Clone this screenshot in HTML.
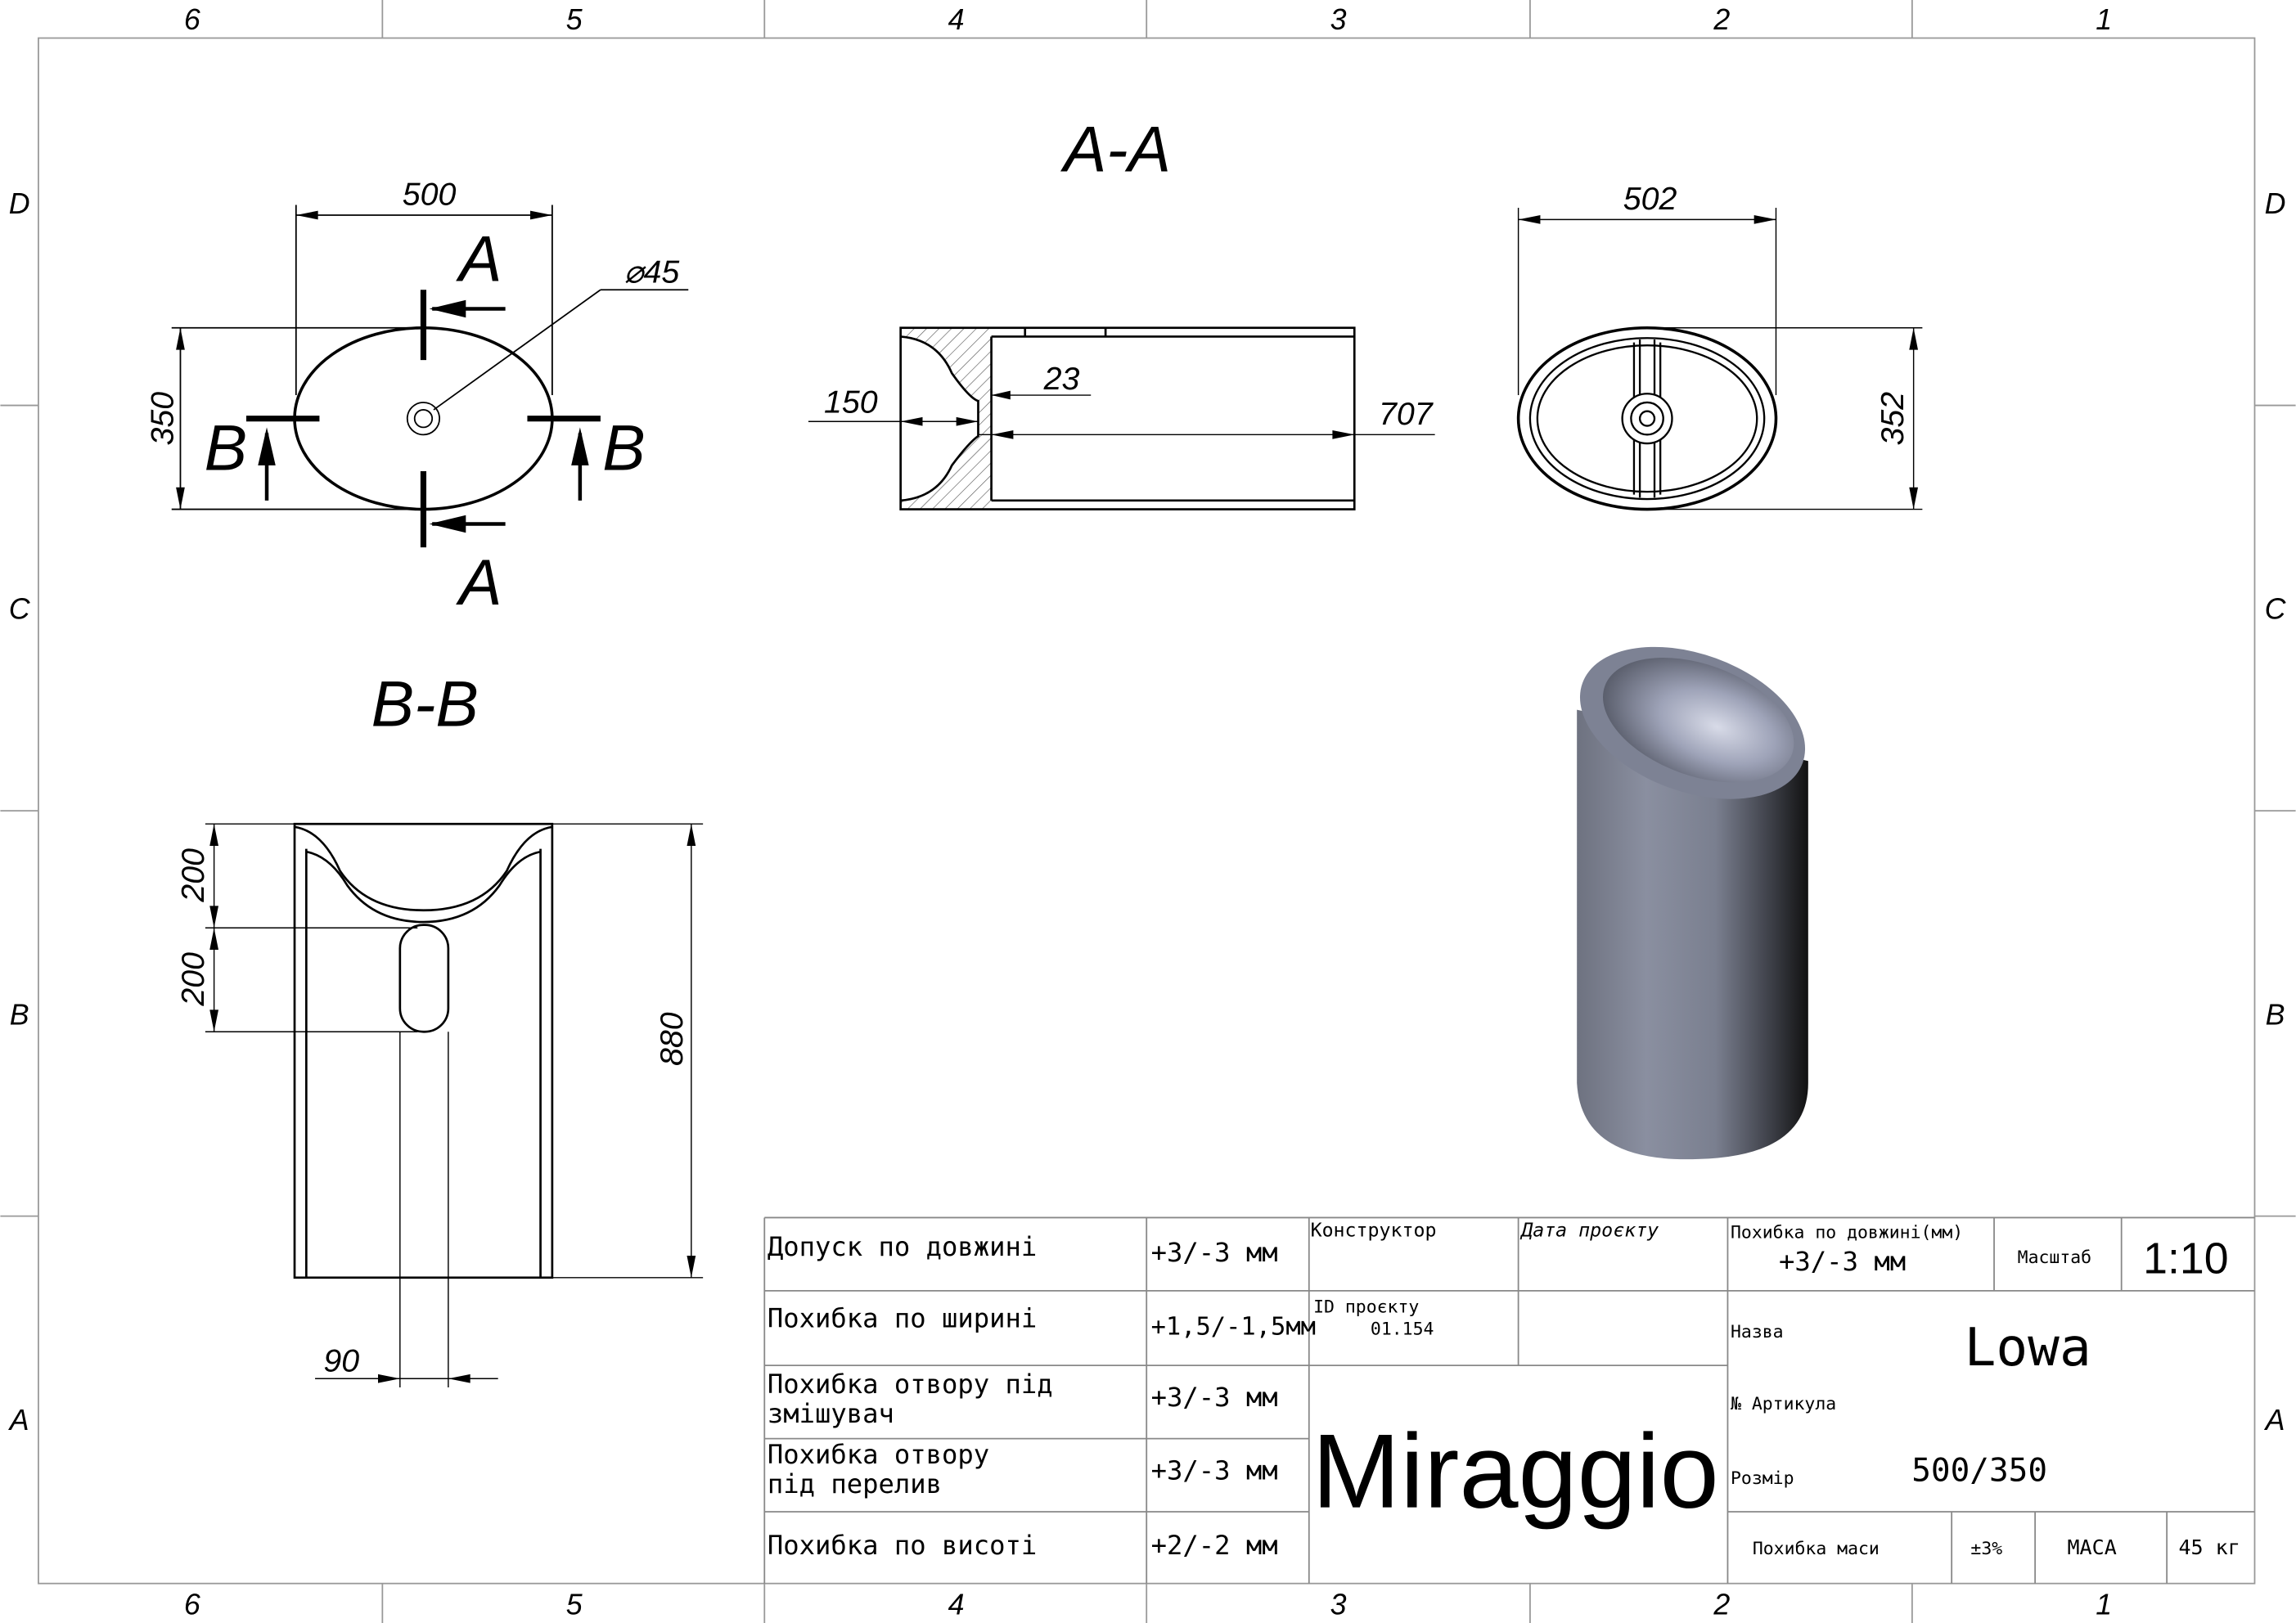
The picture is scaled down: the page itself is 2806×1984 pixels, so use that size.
<!DOCTYPE html>
<html><head><meta charset="utf-8"><style>
html,body{margin:0;padding:0;background:#fff}
svg{display:block}
text{font-family:"Liberation Sans",sans-serif;fill:#000}
.m{font-family:"DejaVu Sans Mono","Liberation Mono",monospace}
</style></head><body>
<svg width="2806" height="1984" viewBox="0 0 1568 1109" xmlns="http://www.w3.org/2000/svg">
<defs>
<pattern id="h" width="6" height="6" patternUnits="userSpaceOnUse" patternTransform="rotate(45)"><line x1="0" y1="0" x2="0" y2="6" stroke="#555" stroke-width="0.7"/></pattern>
<linearGradient id="body" x1="0" x2="1" y1="0" y2="0">
<stop offset="0" stop-color="#6e7280"/><stop offset="0.3" stop-color="#8a8fa0"/><stop offset="0.6" stop-color="#7a7f8f"/><stop offset="0.85" stop-color="#3a3c44"/><stop offset="1" stop-color="#111"/></linearGradient>
<radialGradient id="bowl" cx="0.6" cy="0.5" r="0.6"><stop offset="0" stop-color="#d8dbe8"/><stop offset="0.5" stop-color="#9ea3b8"/><stop offset="1" stop-color="#5a5e6c"/></radialGradient>
</defs>
<g fill="none" stroke="#999" stroke-width="1">
<rect x="26" y="26" width="1514" height="1056"/>
<line x1="261" y1="0" x2="261" y2="26"/><line x1="522" y1="0" x2="522" y2="26"/><line x1="783" y1="0" x2="783" y2="26"/><line x1="1045" y1="0" x2="1045" y2="26"/><line x1="1306" y1="0" x2="1306" y2="26"/>
<line x1="261" y1="1082" x2="261" y2="1109"/><line x1="522" y1="1082" x2="522" y2="1109"/><line x1="783" y1="1082" x2="783" y2="1109"/><line x1="1045" y1="1082" x2="1045" y2="1109"/><line x1="1306" y1="1082" x2="1306" y2="1109"/>
<line x1="0" y1="277" x2="26" y2="277"/><line x1="0" y1="554" x2="26" y2="554"/><line x1="0" y1="831" x2="26" y2="831"/>
<line x1="1540" y1="277" x2="1568" y2="277"/><line x1="1540" y1="554" x2="1568" y2="554"/><line x1="1540" y1="831" x2="1568" y2="831"/>
</g>
<g font-size="20" font-style="italic" text-anchor="middle">
<text x="131" y="20">6</text><text x="392" y="20">5</text><text x="653" y="20">4</text><text x="914" y="20">3</text><text x="1176" y="20">2</text><text x="1437" y="20">1</text>
<text x="131" y="1103">6</text><text x="392" y="1103">5</text><text x="653" y="1103">4</text><text x="914" y="1103">3</text><text x="1176" y="1103">2</text><text x="1437" y="1103">1</text>
<text x="13" y="146">D</text><text x="13" y="423">C</text><text x="13" y="700">B</text><text x="13" y="977">A</text>
<text x="1554" y="146">D</text><text x="1554" y="423">C</text><text x="1554" y="700">B</text><text x="1554" y="977">A</text>
</g>

<g fill="none" stroke="#000" stroke-width="1">
<ellipse cx="289" cy="286" rx="88" ry="62" stroke-width="2"/>
<circle cx="289" cy="286" r="11"/><circle cx="289" cy="286" r="6"/>
<line x1="202" y1="140" x2="202" y2="270"/><line x1="377" y1="140" x2="377" y2="270"/>
<line x1="202" y1="147" x2="377" y2="147"/>
<line x1="117" y1="224" x2="280" y2="224"/><line x1="117" y1="348" x2="280" y2="348"/>
<line x1="123" y1="224" x2="123" y2="348"/>
<line x1="296" y1="280" x2="410" y2="198"/><line x1="410" y1="198" x2="470" y2="198"/>
</g>
<g stroke="#000" stroke-width="4" fill="none">
<line x1="289" y1="198" x2="289" y2="246"/><line x1="289" y1="322" x2="289" y2="374"/>
<line x1="168" y1="286" x2="218" y2="286"/><line x1="360" y1="286" x2="410" y2="286"/>
</g>
<g stroke="#000" stroke-width="2.5"><line x1="295" y1="211" x2="345" y2="211"/><line x1="295" y1="358" x2="345" y2="358"/><line x1="182" y1="296" x2="182" y2="342"/><line x1="396" y1="296" x2="396" y2="342"/></g>
<g fill="#000"><polygon points="293,211 318,205 318,217"/><polygon points="293,358 318,352 318,364"/><polygon points="182,292 176,318 188,318"/><polygon points="396,292 390,318 402,318"/></g>
<g font-size="22" font-style="italic" text-anchor="middle">
<text x="293" y="140">500</text>
<text x="445" y="193">⌀45</text>
<text transform="translate(118,286) rotate(-90)">350</text>
</g>
<g font-size="44" font-style="italic" text-anchor="middle">
<text x="328" y="192">A</text><text x="328" y="413">A</text><text x="154" y="321">B</text><text x="426" y="321">B</text>
<text x="763" y="117">A-A</text><text x="290" y="496">B-B</text>
</g>

<rect x="615" y="224" width="62" height="124" fill="url(#h)"/>
<path d="M615,230 Q640,232 650,255 Q662,272 668,274 L668,298 Q662,302 650,318 Q640,340 615,342 Z" fill="#fff"/>
<g fill="none" stroke="#000" stroke-width="1.5">
<rect x="615" y="224" width="310" height="124"/>
<line x1="677" y1="230" x2="677" y2="342"/>
<line x1="677" y1="230" x2="925" y2="230"/><line x1="677" y1="342" x2="925" y2="342"/>
<path d="M615,230 Q640,232 650,255 Q662,272 668,274 L668,298 Q662,302 650,318 Q640,340 615,342"/>
<line x1="700" y1="224" x2="700" y2="230"/><line x1="755" y1="224" x2="755" y2="230"/>
</g>
<g fill="none" stroke="#000" stroke-width="0.8">
<line x1="552" y1="288" x2="668" y2="288"/><line x1="677" y1="270" x2="745" y2="270"/>
<line x1="668" y1="297" x2="980" y2="297"/>
</g>
<g fill="#000"><polygon points="615,288 630,285 630,291"/><polygon points="668,288 653,285 653,291"/><polygon points="677,297 692,294 692,300"/><polygon points="925,297 910,294 910,300"/><polygon points="677,270 690,267 690,273"/></g>
<g font-size="22" font-style="italic" text-anchor="middle"><text x="581" y="282">150</text><text x="725" y="266">23</text><text x="960" y="290">707</text></g>

<g fill="none" stroke="#000" stroke-width="1.3">
<ellipse cx="1125" cy="286" rx="88" ry="62" stroke-width="2"/>
<ellipse cx="1125" cy="286" rx="80" ry="55"/>
<ellipse cx="1125" cy="286" rx="75" ry="50"/>
<line x1="1116" y1="234" x2="1116" y2="338"/><line x1="1134" y1="234" x2="1134" y2="338"/>
<line x1="1120" y1="232" x2="1120" y2="340"/><line x1="1130" y1="232" x2="1130" y2="340"/>
<circle cx="1125" cy="286" r="17" fill="#fff"/><circle cx="1125" cy="286" r="11"/><circle cx="1125" cy="286" r="5"/>
</g>
<g fill="none" stroke="#000" stroke-width="0.8">
<line x1="1037" y1="142" x2="1037" y2="270"/><line x1="1213" y1="142" x2="1213" y2="270"/>
<line x1="1037" y1="150" x2="1213" y2="150"/>
<line x1="1130" y1="224" x2="1313" y2="224"/><line x1="1130" y1="348" x2="1313" y2="348"/>
<line x1="1307" y1="224" x2="1307" y2="348"/>
</g>
<g fill="#000"><polygon points="1037,150 1052,147 1052,153"/><polygon points="1213,150 1198,147 1198,153"/><polygon points="1307,224 1304,239 1310,239"/><polygon points="1307,348 1304,333 1310,333"/>
<polygon points="202,147 217,144 217,150"/><polygon points="377,147 362,144 362,150"/><polygon points="123,224 120,239 126,239"/><polygon points="123,348 120,333 126,333"/></g>
<g font-size="22" font-style="italic" text-anchor="middle"><text x="1127" y="143">502</text><text transform="translate(1300,286) rotate(-90)">352</text></g>

<g fill="none" stroke="#000" stroke-width="1.5">
<rect x="201" y="563" width="176" height="310"/>
<line x1="209" y1="580" x2="209" y2="873"/><line x1="369" y1="580" x2="369" y2="873"/>
<path d="M201,565 Q220,568 232,595 Q250,622 289,622 Q328,622 346,595 Q358,568 377,565"/>
<path d="M209,582 Q225,585 237,605 Q255,630 289,630 Q323,630 341,605 Q353,585 369,582"/>
<rect x="273" y="632" width="33" height="73" rx="16"/>
</g>
<g fill="none" stroke="#000" stroke-width="0.8">
<line x1="140" y1="563" x2="201" y2="563"/><line x1="140" y1="634" x2="285" y2="634"/><line x1="140" y1="705" x2="285" y2="705"/>
<line x1="146" y1="563" x2="146" y2="705"/>
<line x1="377" y1="563" x2="480" y2="563"/><line x1="377" y1="873" x2="480" y2="873"/><line x1="472" y1="563" x2="472" y2="873"/>
<line x1="273" y1="705" x2="273" y2="948"/><line x1="306" y1="705" x2="306" y2="948"/>
<line x1="215" y1="942" x2="340" y2="942"/>
</g>
<g fill="#000"><polygon points="146,563 143,578 149,578"/><polygon points="146,634 143,619 149,619"/><polygon points="146,634 143,649 149,649"/><polygon points="146,705 143,690 149,690"/>
<polygon points="472,563 469,578 475,578"/><polygon points="472,873 469,858 475,858"/><polygon points="273,942 258,939 258,945"/><polygon points="306,942 321,939 321,945"/></g>
<g font-size="22" font-style="italic" text-anchor="middle"><text transform="translate(139,598) rotate(-90)">200</text><text transform="translate(139,669) rotate(-90)">200</text><text transform="translate(466,710) rotate(-90)">880</text><text x="233" y="937">90</text></g>

<path d="M1077,485 L1077,740 Q1080,795 1160,792 Q1235,790 1235,740 L1235,520 Z" fill="url(#body)"/>
<ellipse cx="1156" cy="494" rx="80" ry="47" transform="rotate(20 1156 494)" fill="#7d8294"/>
<ellipse cx="1160" cy="492" rx="68" ry="38" transform="rotate(20 1160 492)" fill="url(#bowl)"/>

<g fill="none" stroke="#888" stroke-width="1">
<line x1="522" y1="832" x2="1540" y2="832"/><line x1="522" y1="832" x2="522" y2="1082"/>
<line x1="783" y1="832" x2="783" y2="1082"/><line x1="894" y1="832" x2="894" y2="1082"/><line x1="1180" y1="832" x2="1180" y2="1082"/>
<line x1="522" y1="882" x2="1180" y2="882"/><line x1="522" y1="933" x2="1180" y2="933"/><line x1="522" y1="983" x2="894" y2="983"/><line x1="522" y1="1033" x2="894" y2="1033"/>
<line x1="1037" y1="832" x2="1037" y2="933"/>
<line x1="1180" y1="882" x2="1540" y2="882"/><line x1="1180" y1="1033" x2="1540" y2="1033"/>
<line x1="1362" y1="832" x2="1362" y2="882"/><line x1="1449" y1="832" x2="1449" y2="882"/>
<line x1="1333" y1="1033" x2="1333" y2="1082"/><line x1="1390" y1="1033" x2="1390" y2="1082"/><line x1="1480" y1="1033" x2="1480" y2="1082"/>
</g>
<g class="m" font-size="18">
<text class="m" x="524" y="858">Допуск по довжині</text>
<text class="m" x="524" y="907">Похибка по ширині</text>
<text class="m" x="524" y="952">Похибка отвору під</text><text class="m" x="524" y="972">змішувач</text>
<text class="m" x="524" y="1000">Похибка отвору</text><text class="m" x="524" y="1020">під перелив</text>
<text class="m" x="524" y="1062">Похибка по висоті</text>
<text class="m" x="786" y="862">+3/-3 мм</text>
<text class="m" x="786" y="912" font-size="17">+1,5/-1,5мм</text>
<text class="m" x="786" y="961">+3/-3 мм</text>
<text class="m" x="786" y="1011">+3/-3 мм</text>
<text class="m" x="786" y="1062">+2/-2 мм</text>
</g>
<g font-size="13">
<text class="m" x="895" y="845">Конструктор</text>
<text class="m" x="1039" y="845" font-style="italic">Дата проєкту</text>
<text class="m" x="897" y="897" font-size="12">ID проєкту</text>
<text class="m" x="936" y="912" font-size="12">01.154</text>
<text class="m" x="1182" y="846" font-size="12">Похибка по довжині(мм)</text>
<text class="m" x="1215" y="868" font-size="18">+3/-3 мм</text>
<text class="m" x="1378" y="863" font-size="12">Масштаб</text>
<text x="1493" y="870" font-size="30" text-anchor="middle">1:10</text>
<text class="m" x="1182" y="914" font-size="12">Назва</text>
<text class="m" x="1385" y="933" font-size="36" text-anchor="middle">Lowa</text>
<text class="m" x="1182" y="963" font-size="12">№ Артикула</text>
<text class="m" x="1182" y="1014" font-size="12">Розмір</text>
<text class="m" x="1352" y="1012" font-size="22" text-anchor="middle">500/350</text>
<text class="m" x="1197" y="1062" font-size="12">Похибка маси</text>
<text class="m" x="1346" y="1062" font-size="12">±3%</text>
<text class="m" x="1412" y="1062" font-size="14">МАСА</text>
<text class="m" x="1488" y="1062" font-size="14">45 кг</text>
</g>
<text x="1035" y="1030" font-size="72" text-anchor="middle" font-family="DejaVu Sans, sans-serif" font-weight="200" textLength="278" lengthAdjust="spacingAndGlyphs">Miraggio</text>
</svg>
</body></html>
